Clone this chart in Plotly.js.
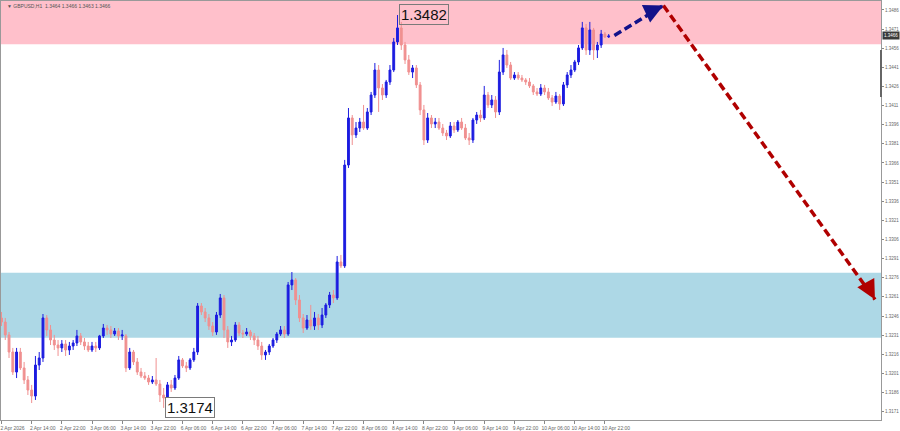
<!DOCTYPE html>
<html>
<head>
<meta charset="utf-8">
<script src="https://cdn.plot.ly/plotly-3.0.1.min.js"></script>
<style>html,body{margin:0;padding:0;background:#fff;}#chart{width:900px;height:431px;}</style>
</head>
<body>
<div id="chart"></div>
<script>
// ---- DATA (GBPUSD H1) ----
const symbolTitle = "\u25BC GBPUSD,H1  1.3464 1.3466 1.3463 1.3466";
const tickLabels = ["2 Apr 2026","2 Apr 14:00","2 Apr 22:00","3 Apr 06:00","3 Apr 14:00","3 Apr 22:00",
  "6 Apr 06:00","6 Apr 14:00","6 Apr 22:00","7 Apr 06:00","7 Apr 14:00","7 Apr 22:00","8 Apr 06:00",
  "8 Apr 14:00","8 Apr 22:00","9 Apr 06:00","9 Apr 14:00","9 Apr 22:00","10 Apr 06:00","10 Apr 14:00","10 Apr 22:00"];
const barsPerTick = 8;
const priceTicks = [1.3171,1.3186,1.3201,1.3216,1.3231,1.3246,1.3261,1.3276,1.3291,1.3306,1.3321,
  1.3336,1.3351,1.3366,1.3381,1.3396,1.3411,1.3426,1.3441,1.3456,1.3471,1.3486];

const open = [1.32445,1.32413,1.32312,1.32178,1.32021,1.32178,1.32053,1.31959,1.31880,1.31833,
1.32076,1.32131,1.32445,1.32351,1.32272,1.32233,1.32210,1.32241,1.32194,1.32225,
1.32249,1.32304,1.32257,1.32225,1.32194,1.32225,1.32210,1.32304,1.32366,1.32351,
1.32319,1.32343,1.32304,1.32304,1.32053,1.32178,1.32100,1.32021,1.31990,1.31974,
1.31943,1.31959,1.31927,1.31841,1.31818,1.31920,1.31896,1.31974,1.32116,1.32069,
1.32053,1.32116,1.32178,1.32539,1.32492,1.32445,1.32382,1.32335,1.32468,1.32602,
1.32351,1.32257,1.32272,1.32390,1.32327,1.32319,1.32335,1.32304,1.32272,1.32225,
1.32155,1.32178,1.32225,1.32272,1.32319,1.32351,1.32319,1.32704,1.32743,1.32586,
1.32445,1.32366,1.32429,1.32382,1.32445,1.32390,1.32468,1.32547,1.32625,1.32602,
1.32884,1.32853,1.33644,1.34013,1.33880,1.33934,1.33981,1.33934,1.34060,1.34193,
1.34389,1.34248,1.34193,1.34295,1.34389,1.34609,1.34719,1.34585,1.34468,1.34373,
1.34405,1.34272,1.34076,1.33840,1.34013,1.33966,1.33981,1.33934,1.33895,1.33872,
1.33950,1.33919,1.33981,1.33934,1.33856,1.33840,1.33997,1.34036,1.34013,1.34193,
1.34115,1.34154,1.34060,1.34373,1.34507,1.34428,1.34326,1.34350,1.34326,1.34311,
1.34295,1.34264,1.34217,1.34201,1.34248,1.34217,1.34170,1.34138,1.34185,1.34123,
1.34272,1.34350,1.34389,1.34452,1.34562,1.34719,1.34546,1.34703,1.34546,1.34585,
1.34671,1.34648];
const high = [1.32492,1.32445,1.32335,1.32210,1.32210,1.32210,1.32100,1.31990,1.31920,1.32147,
1.32178,1.32476,1.32468,1.32390,1.32312,1.32272,1.32272,1.32272,1.32257,1.32272,
1.32351,1.32327,1.32288,1.32257,1.32257,1.32257,1.32312,1.32398,1.32390,1.32382,
1.32366,1.32366,1.32351,1.32319,1.32210,1.32194,1.32131,1.32053,1.32021,1.31998,
1.31990,1.32131,1.31959,1.31896,1.31943,1.31959,1.31998,1.32147,1.32131,1.32100,
1.32131,1.32210,1.32562,1.32562,1.32523,1.32476,1.32413,1.32492,1.32633,1.32625,
1.32382,1.32304,1.32413,1.32413,1.32351,1.32366,1.32351,1.32327,1.32304,1.32257,
1.32194,1.32241,1.32288,1.32335,1.32382,1.32382,1.32727,1.32805,1.32758,1.32625,
1.32476,1.32468,1.32547,1.32492,1.32476,1.32523,1.32562,1.32649,1.32664,1.32931,
1.32939,1.33684,1.34091,1.34036,1.33981,1.34013,1.34115,1.34091,1.34217,1.34444,
1.34428,1.34279,1.34311,1.34428,1.34640,1.34820,1.34766,1.34609,1.34507,1.34428,
1.34428,1.34295,1.34115,1.34052,1.34036,1.34013,1.34013,1.33966,1.33919,1.33981,
1.33981,1.33997,1.34013,1.33966,1.33895,1.34013,1.34060,1.34076,1.34264,1.34217,
1.34193,1.34185,1.34468,1.34562,1.34546,1.34452,1.34373,1.34373,1.34350,1.34326,
1.34326,1.34279,1.34248,1.34279,1.34272,1.34248,1.34193,1.34217,1.34201,1.34295,
1.34373,1.34428,1.34468,1.34585,1.34766,1.34750,1.34766,1.34719,1.34609,1.34703,
1.34687,1.34671];
const low = [1.32382,1.32272,1.32131,1.31998,1.31974,1.32037,1.31927,1.31841,1.31778,1.31802,
1.32037,1.32100,1.32304,1.32233,1.32194,1.32147,1.32178,1.32147,1.32155,1.32194,
1.32225,1.32233,1.32194,1.32178,1.32178,1.32178,1.32194,1.32288,1.32312,1.32288,
1.32304,1.32272,1.32272,1.32021,1.32037,1.32076,1.31998,1.31974,1.31959,1.31920,
1.31927,1.31912,1.31786,1.31740,1.31802,1.31865,1.31880,1.31959,1.32053,1.32021,
1.32037,1.32100,1.32155,1.32468,1.32413,1.32351,1.32304,1.32312,1.32445,1.32288,
1.32210,1.32225,1.32257,1.32304,1.32288,1.32304,1.32272,1.32233,1.32194,1.32116,
1.32116,1.32155,1.32210,1.32249,1.32304,1.32288,1.32304,1.32664,1.32547,1.32413,
1.32327,1.32351,1.32351,1.32351,1.32351,1.32366,1.32445,1.32523,1.32562,1.32586,
1.32837,1.32837,1.33621,1.33801,1.33856,1.33903,1.33919,1.33919,1.34036,1.34170,
1.34060,1.34154,1.34170,1.34272,1.34373,1.34585,1.34546,1.34436,1.34350,1.34326,
1.34248,1.34036,1.33801,1.33817,1.33934,1.33934,1.33919,1.33872,1.33840,1.33856,
1.33895,1.33903,1.33919,1.33840,1.33801,1.33817,1.33966,1.33981,1.33997,1.34091,
1.34091,1.34013,1.34036,1.34350,1.34405,1.34311,1.34311,1.34311,1.34295,1.34272,
1.34248,1.34193,1.34185,1.34185,1.34193,1.34154,1.34107,1.34123,1.34076,1.34107,
1.34248,1.34326,1.34373,1.34428,1.34546,1.34507,1.34507,1.34468,1.34483,1.34562,
1.34640,1.34640];
const close = [1.32413,1.32312,1.32178,1.32021,1.32178,1.32053,1.31959,1.31880,1.31833,1.32076,
1.32131,1.32445,1.32351,1.32272,1.32233,1.32210,1.32241,1.32194,1.32225,1.32249,
1.32304,1.32257,1.32225,1.32194,1.32225,1.32210,1.32304,1.32366,1.32351,1.32319,
1.32343,1.32304,1.32312,1.32053,1.32178,1.32100,1.32021,1.31990,1.31974,1.31943,
1.31959,1.31927,1.31841,1.31818,1.31920,1.31896,1.31974,1.32116,1.32069,1.32053,
1.32116,1.32178,1.32539,1.32492,1.32445,1.32382,1.32335,1.32468,1.32602,1.32351,
1.32257,1.32272,1.32390,1.32327,1.32319,1.32335,1.32304,1.32272,1.32225,1.32155,
1.32178,1.32225,1.32272,1.32319,1.32351,1.32319,1.32704,1.32743,1.32586,1.32445,
1.32366,1.32429,1.32382,1.32445,1.32390,1.32468,1.32547,1.32625,1.32602,1.32884,
1.32853,1.33644,1.34013,1.33880,1.33934,1.33981,1.33934,1.34060,1.34193,1.34389,
1.34248,1.34193,1.34295,1.34389,1.34609,1.34719,1.34585,1.34468,1.34373,1.34405,
1.34272,1.34076,1.33840,1.34013,1.33966,1.33981,1.33934,1.33895,1.33872,1.33950,
1.33919,1.33981,1.33934,1.33856,1.33840,1.33997,1.34036,1.34013,1.34193,1.34115,
1.34154,1.34060,1.34373,1.34507,1.34428,1.34326,1.34350,1.34326,1.34311,1.34295,
1.34264,1.34217,1.34201,1.34248,1.34217,1.34170,1.34138,1.34185,1.34123,1.34272,
1.34350,1.34389,1.34452,1.34562,1.34719,1.34546,1.34703,1.34546,1.34585,1.34671,
1.34648,1.34656];

// marked extremes
const highMark = {bar: 105, price: 1.3482, label: "1.3482"};
const lowMark  = {bar: 43,  price: 1.3174, label: "1.3174"};
// zones
const resistanceZone = [1.3459, 1.3493];
const supportZone = [1.3229, 1.3280];
// forecast path (bar index, price)
const upLegX = [162.5, 175.5];
const upLegY = [1.34660, 1.34895];
const downLegX = [175.5, 231.6];
const downLegY = [1.34895, 1.32590];

// ---- BUILD ----
const xIdx = close.map((_, i) => i);
const tickVals = tickLabels.map((_, k) => k * barsPerTick);
const lastClose = close[close.length - 1];

const traces = [
  {
    type: 'candlestick', x: xIdx, open: open, high: high, low: low, close: close,
    increasing: {line: {color: '#1c1ce0', width: 1}, fillcolor: '#1c1ce0'},
    decreasing: {line: {color: '#f09090', width: 1}, fillcolor: '#f09090'},
    whiskerwidth: 0, hoverinfo: 'skip', showlegend: false
  },
  {
    type: 'scatter', mode: 'lines', x: upLegX, y: upLegY,
    line: {color: '#12128a', width: 3.5, dash: '8px,4px'}, showlegend: false, hoverinfo: 'skip'
  },
  {
    type: 'scatter', mode: 'lines', x: downLegX, y: downLegY,
    line: {color: '#b00000', width: 3.5, dash: '8px,4px'}, showlegend: false, hoverinfo: 'skip'
  }
];

const n = upLegX.length - 1, m = downLegX.length - 1;
const annotations = [
  {xref: 'paper', yref: 'paper', x: 0.004, y: 0.999, xanchor: 'left', yanchor: 'top',
   text: symbolTitle, showarrow: false, font: {family: 'Liberation Sans, Arial', size: 5, color: '#555'}},
  {x: highMark.bar, y: highMark.price, xanchor: 'left', yanchor: 'middle', xshift: 1, yshift: 1,
   text: highMark.label, showarrow: false, bordercolor: '#7a7a7a', borderwidth: 1, borderpad: 1,
   font: {family: 'Liberation Sans, Arial', size: 15, color: '#111'}},
  {x: lowMark.bar, y: lowMark.price, xanchor: 'left', yanchor: 'middle', xshift: 1,
   text: lowMark.label, showarrow: false, bordercolor: '#7a7a7a', borderwidth: 1, borderpad: 1,
   bgcolor: '#ffffff', font: {family: 'Liberation Sans, Arial', size: 15, color: '#111'}},
  {xref: 'paper', x: 1, y: lastClose, xanchor: 'left', yanchor: 'middle', xshift: 1,
   text: lastClose.toFixed(4), showarrow: false, bgcolor: '#3a3a3a', borderpad: 1,
   font: {family: 'Liberation Sans, Arial', size: 4.5, color: '#fff'}},
  {x: upLegX[n], y: upLegY[n], ax: upLegX[n] - 2.5, ay: upLegY[n] - 0.00035, axref: 'x', ayref: 'y',
   showarrow: true, arrowhead: 2, arrowsize: 1.1, arrowwidth: 3.5, arrowcolor: '#12128a', text: ''},
  {x: downLegX[m], y: downLegY[m], ax: downLegX[m] - 2.2, ay: downLegY[m] + 0.0012, axref: 'x', ayref: 'y',
   showarrow: true, arrowhead: 2, arrowsize: 1.1, arrowwidth: 3.5, arrowcolor: '#b00000', text: ''}
];

const layout = {
  width: 900, height: 431,
  margin: {l: 1, r: 19, t: 1, b: 11},
  paper_bgcolor: '#ffffff', plot_bgcolor: '#ffffff',
  font: {family: 'Liberation Sans, Arial', size: 5, color: '#666'},
  showlegend: false,
  xaxis: {
    type: 'linear', range: [-0.13, 233.2], rangeslider: {visible: false},
    tickvals: tickVals, ticktext: tickLabels, tickangle: 0,
    ticks: 'outside', ticklen: 3, tickcolor: '#888', ticklabelshift: 11, ticklabelstandoff: 0,
    showgrid: false, zeroline: false, showline: true, linecolor: '#999', linewidth: 1, mirror: true,
    tickfont: {size: 5, color: '#666'}
  },
  yaxis: {
    side: 'right', range: [1.31645, 1.34930],
    tickvals: priceTicks, ticktext: priceTicks.map(v => v.toFixed(4)),
    ticks: 'outside', ticklen: 2, tickcolor: '#888', ticklabelstandoff: 0,
    showgrid: false, zeroline: false, showline: true, linecolor: '#999', linewidth: 1, mirror: true,
    tickfont: {size: 4.5, color: '#666'}
  },
  shapes: [
    {type: 'rect', xref: 'paper', yref: 'y', x0: 0, x1: 1, y0: resistanceZone[0], y1: resistanceZone[1],
     fillcolor: '#ffc0cb', line: {width: 0}, layer: 'below'},
    {type: 'rect', xref: 'paper', yref: 'y', x0: 0, x1: 1, y0: supportZone[0], y1: supportZone[1],
     fillcolor: '#add8e6', line: {width: 0}, layer: 'below'},
    {type: 'line', xref: 'paper', yref: 'y', x0: 1, x1: 1, y0: 1.34546, y1: 1.34178,
     line: {color: '#666', width: 2}}
  ],
  annotations: annotations
};

Plotly.newPlot('chart', traces, layout, {staticPlot: true, displayModeBar: false});
</script>
</body>
</html>
